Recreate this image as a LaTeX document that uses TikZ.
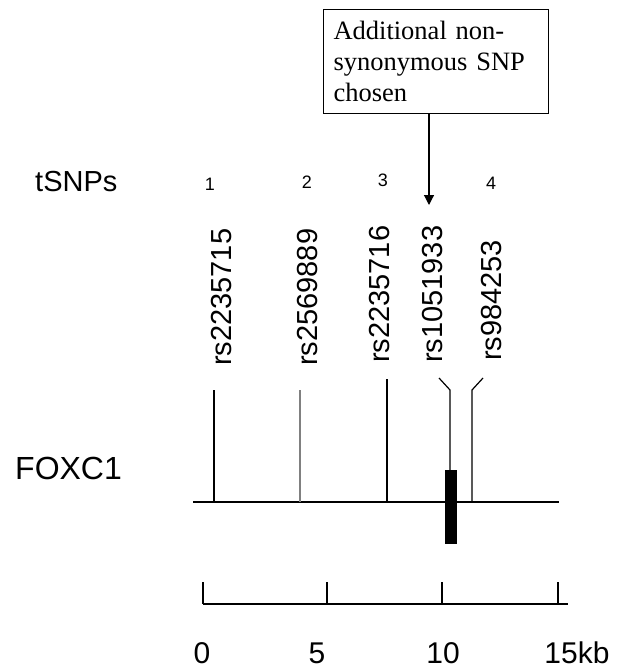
\documentclass[tikz,border=0pt]{standalone}
\usepackage{fontspec}
\setmainfont{Liberation Sans}
\newfontfamily\notefont{Liberation Serif}
\usetikzlibrary{positioning,arrows.meta,calc}

\begin{document}
\begin{tikzpicture}[
    x=1pt,y=-1pt,
    snp/.style={rotate=90,anchor=west,inner sep=0pt,font=\fontsize{29}{29}\selectfont},
    num/.style={inner sep=0pt,font=\fontsize{18}{18}\selectfont},
    kb/.style={inner sep=0pt,font=\fontsize{30}{30}\selectfont},
    gene/.style={line width=1.2pt},
    note/.style={draw,line width=1pt,anchor=north west,align=left,
                 minimum width=225pt,minimum height=104pt,text width=205pt,
                 inner xsep=0pt,font=\notefont\fontsize{26.5}{31}\selectfont}
]
  \useasboundingbox (0,0) rectangle (617,669);

  \node[note] (extra) at (323,9) {Additional non-\\synonymous SNP\\chosen};
  \coordinate (tip) at (429,205);
  \draw[gene,-{Triangle[width=10pt,length=10pt]}] (extra.south -| tip) -- (tip);

  \node[inner sep=0pt,anchor=west,font=\fontsize{29}{29}\selectfont] (tsnps) at (35,182) {tSNPs};
  \node[num] (n1) at (210,184) {1};
  \node[num] (n2) at (307,182) {2};
  \node[num] (n3) at (383,180) {3};
  \node[num] (n4) at (491,183) {4};

  \node[snp] (rsa) at (222,366) {rs2235715};
  \node[snp] (rsb) at (308,366) {rs2569889};
  \node[snp] (rsc) at (380,363) {rs2235716};
  \node[snp] (rsd) at (433,363) {rs1051933};
  \node[snp] (rse) at (492,361) {rs984253};

  \node[inner sep=0pt,anchor=west,font=\fontsize{32}{32}\selectfont] (foxc) at (15,468) {FOXC1};

  % gene line with SNP positions
  \draw[gene] (193,502) -- (559,502);
  \draw[gene] (214,390) -- (214,502);
  \draw[gene,gray] (300,390) -- (300,502);
  \draw[gene] (387,379) -- (387,502);
  \draw[gene] (439,378) -- (450,390) -- (450,470);
  \draw[gene] (483,378) -- (472,390) -- (472,502);
  \fill (445,470) rectangle (457,544);

  % kb scale
  \draw[gene] (203,604) -- (568,604);
  \foreach \x in {203,327,442,558}
    \draw[gene] (\x,582) -- (\x,604);
  \node[kb] (k0) at (202,653) {0};
  \node[kb] (k5) at (317,653) {5};
  \node[kb] (k10) at (443,653) {10};
  \node[kb] (k15) at (577,653) {15kb};
\end{tikzpicture}
\end{document}
